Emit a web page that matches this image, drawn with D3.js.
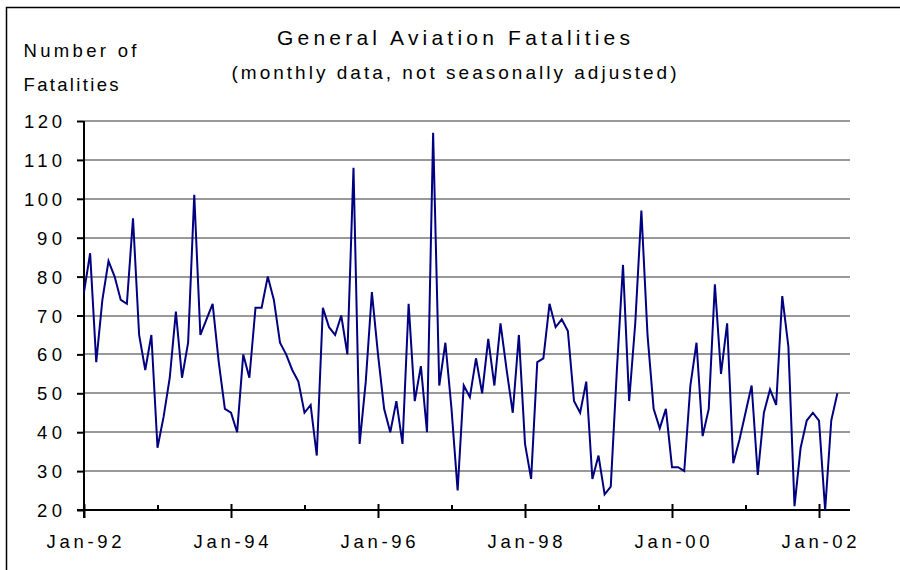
<!DOCTYPE html>
<html>
<head>
<meta charset="utf-8">
<script src="https://cdn.jsdelivr.net/npm/d3@7"></script>
<style>
  html, body { margin: 0; padding: 0; background: #fff; }
  svg { display: block; }
  text { font-family: "Liberation Sans", Arial, sans-serif; fill: #000; }
</style>
</head>
<body>
<svg id="chart" width="900" height="570"></svg>
<script>
// Monthly fatalities, Jan-92 .. Apr-02
const fatalities = [
  76, 86, 58, 74, 84, 80, 74, 73, 95, 65, 56, 65,   // 1992
  36, 44, 54, 71, 54, 63, 101, 65, 69, 73, 58, 46,  // 1993
  45, 40, 60, 54, 72, 72, 80, 74, 63, 60, 56, 53,   // 1994
  45, 47, 34, 72, 67, 65, 70, 60, 108, 37, 53, 76,  // 1995
  60, 46, 40, 48, 37, 73, 48, 57, 40, 117, 52, 63,  // 1996
  46, 25, 52, 49, 59, 50, 64, 52, 68, 56, 45, 65,   // 1997
  37, 28, 58, 59, 73, 67, 69, 66, 48, 45, 53, 28,   // 1998
  34, 24, 26, 56, 83, 48, 68, 97, 65, 46, 41, 46,   // 1999
  31, 31, 30, 52, 63, 39, 46, 78, 55, 68, 32, 38,   // 2000
  45, 52, 29, 45, 51, 47, 75, 62, 21, 36, 43, 45,   // 2001
  43, 20, 43, 50                                    // 2002
];
const majorTickMonths = [0, 24, 48, 72, 96, 120];
const majorTickLabels = ["Jan-92", "Jan-94", "Jan-96", "Jan-98", "Jan-00", "Jan-02"];
const minorTickMonths = [12, 36, 60, 84, 108];
const yTicks = [20, 30, 40, 50, 60, 70, 80, 90, 100, 110, 120];
const titleText = "General Aviation Fatalities";
const subtitleText = "(monthly data, not seasonally adjusted)";
const yTitleLines = ["Number of", "Fatalities"];

const svg = d3.select("#chart");

// outer border (extends past the right/bottom edges as in the reference)
svg.append("rect")
  .attr("x", 6.5).attr("y", 7.5).attr("width", 1000).attr("height", 1000)
  .attr("fill", "none").attr("stroke", "#000").attr("stroke-width", 1.5);

const plotL = 84, plotR = 850, plotT = 121, plotB = 510;
const x = d3.scaleLinear().domain([0, 125.06]).range([plotL, plotR]);
const y = d3.scaleLinear().domain([20, 120]).range([plotB, plotT]);

// gridlines
svg.append("g").selectAll("line")
  .data(yTicks.filter(v => v > 20))
  .join("line")
  .attr("x1", plotL).attr("x2", plotR)
  .attr("y1", d => Math.round(y(d))).attr("y2", d => Math.round(y(d)))
  .attr("stroke", "#999").attr("stroke-width", 2);

// y axis
const yAxis = d3.axisLeft(y).tickValues(yTicks).tickSize(7).tickPadding(0).tickFormat(() => "");
const gy = svg.append("g").attr("transform", `translate(${plotL},0)`).call(yAxis);
gy.select(".domain").remove();
gy.selectAll(".tick line").attr("stroke", "#000").attr("stroke-width", 2);
svg.append("line").attr("x1", plotL).attr("x2", plotL).attr("y1", plotT).attr("y2", plotB + 8)
  .attr("stroke", "#000").attr("stroke-width", 2);
svg.append("g").selectAll("text")
  .data(yTicks)
  .join("text")
  .attr("x", 62).attr("y", d => y(d) + 7)
  .attr("text-anchor", "end")
  .attr("font-size", 18.5)
  .attr("textLength", d => String(d).length === 3 ? 38 : 25)
  .attr("lengthAdjust", "spacing")
  .text(d => d);

// x axis
const xMajor = d3.axisBottom(x).tickValues(majorTickMonths).tickSize(8).tickFormat(() => "");
const gx = svg.append("g").attr("transform", `translate(0,${plotB})`).call(xMajor);
gx.select(".domain").remove();
gx.selectAll(".tick line").attr("stroke", "#000").attr("stroke-width", 2).attr("y1", -6);
const xMinor = d3.axisTop(x).tickValues(minorTickMonths).tickSize(5).tickFormat(() => "");
const gxm = svg.append("g").attr("transform", `translate(0,${plotB})`).call(xMinor);
gxm.select(".domain").remove();
gxm.selectAll(".tick line").attr("stroke", "#000").attr("stroke-width", 2);
svg.append("line").attr("x1", plotL - 7).attr("x2", plotR).attr("y1", plotB).attr("y2", plotB)
  .attr("stroke", "#000").attr("stroke-width", 2);
svg.append("g").selectAll("text")
  .data(majorTickMonths)
  .join("text")
  .attr("x", d => x(d)).attr("y", 548)
  .attr("text-anchor", "middle")
  .attr("font-size", 18.5)
  .attr("textLength", 75)
  .attr("lengthAdjust", "spacing")
  .text((d, i) => majorTickLabels[i]);

// data line
const line = d3.line()
  .x((d, i) => x(i))
  .y(d => y(d));
svg.append("path")
  .datum(fatalities)
  .attr("d", line)
  .attr("fill", "none")
  .attr("stroke", "#000080")
  .attr("stroke-width", 2)
  .attr("stroke-linejoin", "miter");

// titles
svg.append("text").attr("x", 453.5).attr("y", 45).attr("text-anchor", "middle")
  .attr("font-size", 21).attr("textLength", 353).attr("lengthAdjust", "spacing").text(titleText);
svg.append("text").attr("x", 454).attr("y", 79).attr("text-anchor", "middle")
  .attr("font-size", 19).attr("textLength", 445).attr("lengthAdjust", "spacing").text(subtitleText);
svg.append("text").attr("x", 23.5).attr("y", 57).attr("font-size", 18.5)
  .attr("textLength", 113).attr("lengthAdjust", "spacing").text(yTitleLines[0]);
svg.append("text").attr("x", 23.5).attr("y", 90.5).attr("font-size", 18.5)
  .attr("textLength", 95).attr("lengthAdjust", "spacing").text(yTitleLines[1]);
</script>
</body>
</html>
